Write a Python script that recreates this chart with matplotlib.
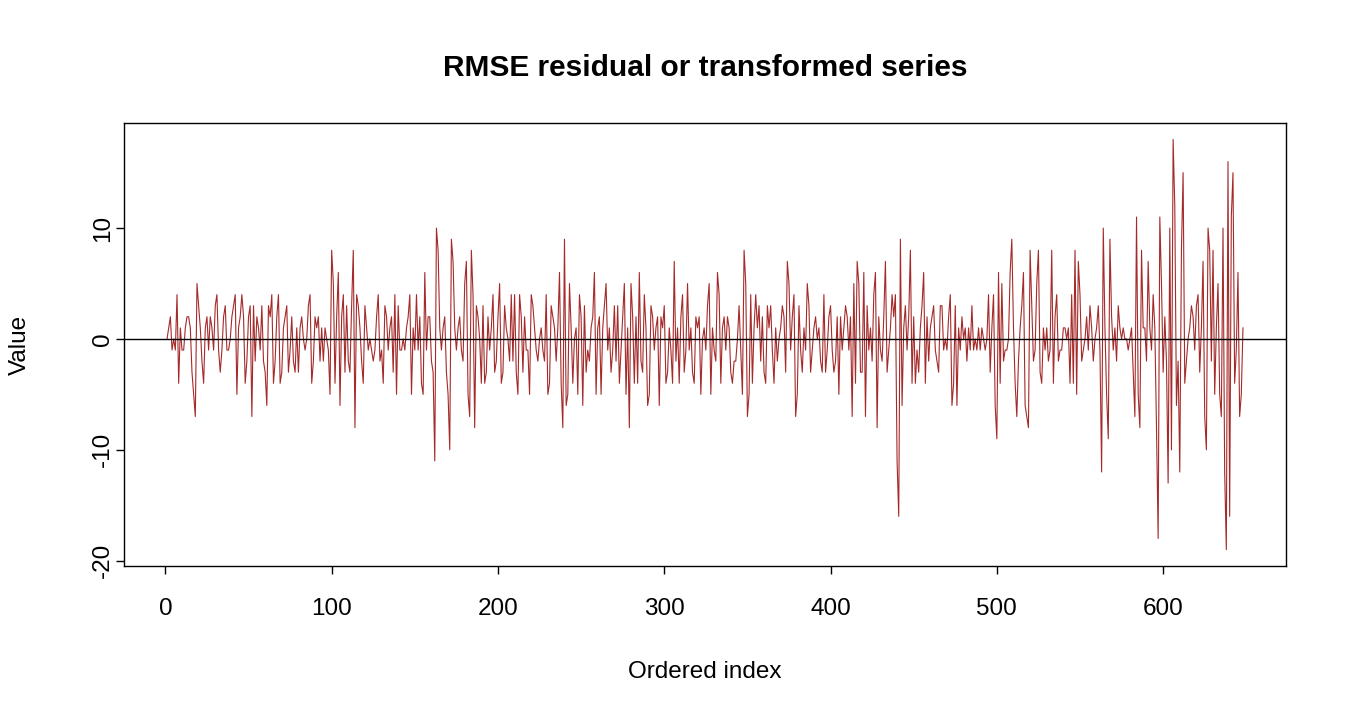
import numpy as np
import matplotlib
matplotlib.use("Agg")
import matplotlib.pyplot as plt

plt.rcParams['font.family'] = ['Liberation Sans', 'DejaVu Sans']
plt.rcParams['axes.unicode_minus'] = False

# values, in order of the index (1..648)
vals_001_052 = [0, 1, 2, -1, 0, -1, 4, -4, 1, -1, -1, 1, 2, 2, 1, -3, -5, -7, 5, 3,
                1, -2, -4, 1, 2, -1, 2, 1, -1, 3, 4, -1, -3, -1, 2, 3, -1, -1, 0, 2,
                3, 4, -5, 1, 2, 4, 2, -4, -2, 2, 3, -7]
vals_053_107 = [3, -2, 2, 1, -1, 3, -2, -3, -6, 3, 2, 4, -4, -2, 2, 4, -4, -3, 1, 2,
                3, -3, -1, 2, -2, -3, 1, -3, 1, 2, 0, -1, 0, 3, 4, -4, -2, 2, 1, 2,
                -2, 1, -2, 1, 0, -1, -5, 8, 5, -4, 2, 6, -6, 2, 4]
vals_108_162 = [-3, 3, -2, -3, 3, 8, -8, 4, 3, 1, -2, -4, 3, 1, -1, 0, -1, -2, -1, 2,
                4, -2, -1, -4, 3, 2, -1, 1, 2, -3, 4, -5, 3, -1, -1, 0, -1, 1, 2, 4,
                -5, 1, -1, 4, -1, 2, -4, -5, 6, -1, 2, 2, -2, -3, -11]
vals_163_218 = [10, 8, 1, -1, 1, 2, -3, -5, -10, 9, 7, 1, -1, 1, 2, -1, -2, 5, 7, -5,
                -7, 8, 4, -8, 3, 2, 0, -4, 3, -4, -3, 2, -1, 1, 4, -3, -2, 2, 5, -4,
                -3, 3, 1, 0, -2, 4, -2, 4, -3, -5, 4, 2, -3, 2, -1, -1]
vals_219_273 = [-5, 4, 3, 1, -1, -2, 0, 1, -1, -2, 4, -5, -4, 3, 2, 1, -2, 1, 6, -4,
                -8, 9, -6, -5, 5, 1, -4, 0, 1, -5, 4, 2, -6, 3, -3, -1, -2, 1, 2, 6,
                -5, 1, 2, -5, 1, 3, 5, -1, 1, -3, -1, 3, -2, 3, -4]
vals_274_328 = [-1, 2, 5, -5, 1, -8, 5, 2, -4, 2, -4, 6, -2, -3, 4, 1, -6, -5, 3, 2,
                -1, 1, 2, -6, 2, 1, 3, -4, -3, 1, -1, -4, 7, -2, 1, -4, 2, 4, -3, -1,
                5, -1, 1, -3, -4, 2, 1, 2, -5, 0, 1, -1, 3, 5, -5]
vals_329_384 = [1, -1, -2, 6, 4, -4, 1, 2, -1, 2, 1, -3, -4, -2, -2, 0, 3, -1, -5, 8,
                5, -7, -5, 4, -4, 1, 4, 1, 3, -2, 2, -3, -4, 3, 1, 3, -1, -4, 1, -2,
                0, 1, 3, 2, -3, 7, 5, -1, 2, 4, -7, -5, 3, -1, -3, 1]
vals_385_439 = [-1, 5, 3, -3, -1, 1, 2, 0, 1, -2, -3, 4, -3, -1, 2, 3, -1, -3, -2, 2,
                -5, 2, -1, 1, 3, 2, -1, 2, -7, 5, -4, 7, 5, -3, -3, 6, -7, 3, -1, 1,
                -2, 4, 6, -8, 2, -1, -2, 2, 7, -3, -1, 1, 4, 2, 4]
vals_440_494 = [-11, -16, 9, -6, 1, 3, -1, 2, 8, -4, 2, -4, -1, -3, 1, 3, 6, -4, 2, -2,
                1, 2, 3, -1, -2, -3, 3, 3, -1, 0, -1, 2, 4, -6, -4, 3, -6, 1, -1, 2,
                0, 1, -2, 1, -1, 3, -1, 0, -1, 1, -1, 1, 0, -1, 0]
vals_495_550 = [4, -3, 1, 4, -6, -9, 6, -4, 5, -2, -1, -1, 0, 6, 9, 1, -4, -7, -2, 1,
                3, 6, -6, -7, -8, 8, 3, -2, -1, 5, 8, -3, -4, 1, -1, 1, -2, -1, 8, -4,
                2, 4, -2, -1, -1, 1, 1, 0, 1, -4, 4, -4, 8, -5, 7, 4]
vals_551_605 = [-2, -1, 0, 2, -1, 3, 1, -2, 0, 1, 3, -1, -12, 10, 1, -5, -9, 9, 2, -1,
                1, -2, 3, 1, 0, 1, 0, 0, -1, 0, 1, -3, -7, 11, -5, -8, 8, 1, 1, -2,
                7, 1, -1, 4, 1, -8, -18, 11, 5, -3, 2, -2, -13, 10, -10]
vals_606_648 = [18, 12, -6, -2, -12, 8, 15, -4, -2, 0, 1, 3, 2, -1, 3, 4, -3, 1, 7, -7,
                -10, 10, 8, -2, 8, -5, 1, 5, -5, -7, 10, -12, -19, 16, -16, 11, 15, -4, -1, 6,
                -7, -5, 1]

values = np.array(vals_001_052 + vals_053_107 + vals_108_162 + vals_163_218 +
                  vals_219_273 + vals_274_328 + vals_329_384 + vals_385_439 +
                  vals_440_494 + vals_495_550 + vals_551_605 + vals_606_648)
index = np.arange(1, len(values) + 1)

x_ticks = [0, 100, 200, 300, 400, 500, 600]
y_ticks = [-20, -10, 0, 10]

fig = plt.figure(figsize=(13.5, 7.2), dpi=100)
ax = fig.add_axes([124 / 1350, 1 - 566 / 720, (1286 - 124) / 1350, (566 - 123) / 720])

ax.plot(index, values, color='#A52A2A', linewidth=0.8)
ax.axhline(0, color='black', linewidth=1)
ax.margins(x=0.04, y=0.04)

ax.set_xticks(x_ticks)
ax.set_yticks(y_ticks)
ax.tick_params(direction='out', length=6, width=1, labelsize=17.5, color='black')
ax.tick_params(axis='x', pad=17)
ax.tick_params(axis='y', pad=1)
for lab in ax.get_yticklabels():
    lab.set_rotation(90)
    lab.set_va('center')

for s in ax.spines.values():
    s.set_linewidth(1)
    s.set_color('black')

ax.set_xlabel('Ordered index', fontsize=17.5)
ax.xaxis.set_label_coords(0.5, -(672 - 566) / 443, transform=ax.transAxes)
ax.set_ylabel('Value', fontsize=17.5)
ax.yaxis.set_label_coords(-(124 - 20) / 1162, 0.5, transform=ax.transAxes)
for lab in [ax.xaxis.label, ax.yaxis.label]:
    lab.set_va('center')
    lab.set_ha('center')

ax.set_title('RMSE residual or transformed series', fontsize=21.5, fontweight='bold', pad=34)

fig.savefig('out.png', dpi=100)
